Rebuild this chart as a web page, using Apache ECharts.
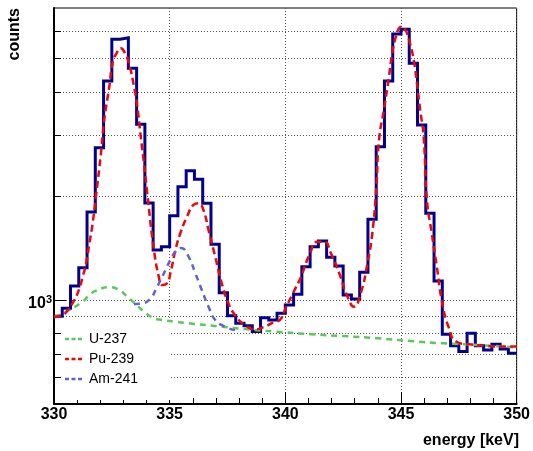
<!DOCTYPE html>
<html>
<head>
<meta charset="utf-8">
<script src="https://cdn.jsdelivr.net/npm/echarts/dist/echarts.min.js"></script>
<style>
html,body{margin:0;padding:0;background:#fff;}
#chart{width:533px;height:451px;}
</style>
</head>
<body>
<div id="chart"></div>
<script>
// ---- data ----
// histogram: 56 equal bins from 330 to 350 keV
const histRange = [330, 350];
const counts = [898, 946, 1098, 1240, 1797, 2759, 4305, 5681, 5743, 4683,
  3225, 1909, 1396, 1427, 1752, 2128, 2366, 2237, 1905, 1450,
  1050, 900, 856, 842, 810, 889, 875, 915, 967, 1039,
  1248, 1427, 1482, 1329, 1254, 1034, 1007, 1203, 1712, 2778,
  4305, 5886, 6074, 4842, 3210, 1782, 1135, 796, 737, 709,
  801, 737, 717, 744, 721, 701];

// fit curves (energy keV, counts)
const u237E = [330.03, 330.53, 331.24, 331.53, 331.82, 332.39, 332.82, 333.17, 333.53, 333.89,
  334.24, 334.67, 335.25, 335.82, 337.25, 338.25, 339.54, 341.11, 342.55, 343.97,
  345.4, 346.84, 348.27, 350.0];
const u237V = [894, 925, 989, 1034, 1064, 1089, 1069, 1022, 973, 925,
  891, 875, 866, 856, 837, 824, 810, 796, 786, 775,
  761, 749, 741, 729];

const pu239E = [330.0, 330.38, 330.6, 330.88, 331.1, 331.24, 331.39, 331.53, 331.67, 331.82,
  332.03, 332.17, 332.39, 332.53, 332.7, 332.89, 333.07, 333.24, 333.46, 333.6,
  333.75, 333.89, 334.03, 334.32, 334.53, 334.67, 334.89, 335.03, 335.25, 335.46,
  335.75, 336.03, 336.25, 336.46, 336.68, 336.97, 337.25, 337.54, 337.82, 338.25,
  338.68, 339.11, 339.54, 339.76, 340.04, 340.33, 340.68, 341.04, 341.4, 341.69,
  341.97, 342.33, 342.69, 342.97, 343.26, 343.55, 343.76, 343.93, 344.05, 344.26,
  344.48, 344.62, 344.76, 344.91, 345.05, 345.19, 345.33, 345.55, 345.69, 345.83,
  345.98, 346.12, 346.33, 346.55, 346.76, 347.05, 347.4, 347.98, 348.7, 349.41, 350.0];
const pu239V = [893, 905, 936, 1000, 1081, 1168, 1277, 1459, 1667, 2013,
  2658, 3318, 4143, 4842, 5176, 5351, 5176, 4842, 4143, 3627,
  2969, 2487, 2036, 1396, 1168, 1105, 1118, 1195, 1396, 1560,
  1742, 1884, 1905, 1821, 1594, 1334, 1118, 978, 905, 846,
  822, 837, 866, 875, 956, 1046, 1168, 1350, 1475, 1475,
  1365, 1195, 1022, 956, 1046, 1277, 1560, 2100, 2904, 3548,
  4429, 5176, 5721, 6115, 6182, 6046, 5721, 4951, 4239, 3548,
  2969, 1948, 1560, 1248, 1000, 837, 757, 744, 737, 733, 733];

const am241E = [333.46, 333.82, 334.18, 334.39, 334.61, 334.82, 335.03, 335.25, 335.5, 335.82,
  336.11, 336.39, 336.68, 336.97, 337.39, 337.82];
const am241V = [973, 978, 1011, 1069, 1143, 1222, 1306, 1380, 1415, 1334,
  1195, 1069, 956, 875, 837, 818];

// y grid / tick values (log axis)
const yGridVals = [600, 700, 800, 900, 1000, 2000, 3000, 4000, 5000, 6000];
const yMajorVals = [1000];
const yRange = [500, 7000];
const xTickInterval = 5;
const legendNames = ['U-237', 'Pu-239', 'Am-241'];

// ---- build ----
const FONT = "'Liberation Sans', Arial, Helvetica, sans-serif";
const binW = (histRange[1] - histRange[0]) / counts.length;
const histData = counts.map((c, i) => [histRange[0] + i * binW, c]);
histData.push([histRange[1], counts[counts.length - 1]]);
const zip = (a, b) => a.map((x, i) => [x, b[i]]);
// dashed-line legend glyph (17 x 14 box)
const dashIcon = 'path://M0,0h0.01v0.01h-0.01z M0,5.75h4v2.5h-4z M6.5,5.75h4v2.5h-4z M13,5.75h4v2.5h-4z M16.99,13.99h0.01v0.01h-0.01z';

const chart = echarts.init(document.getElementById('chart'), null, {renderer: 'canvas'});
chart.setOption({
  animation: false,
  backgroundColor: '#fff',
  textStyle: {fontFamily: FONT},
  grid: {left: 54, right: 13, top: 8, bottom: 47, show: true, borderColor: '#000', borderWidth: 1, backgroundColor: 'transparent'},
  xAxis: {
    type: 'value', min: histRange[0], max: histRange[1], interval: xTickInterval,
    axisLine: {show: true, lineStyle: {color: '#000', width: 2}},
    axisTick: {show: true, inside: true, length: 12, lineStyle: {color: '#000', width: 1}},
    minorTick: {show: true, splitNumber: 5, length: 6, lineStyle: {color: '#000', width: 1}},
    axisLabel: {color: '#000', fontSize: 16, fontWeight: 'bold', fontFamily: FONT, margin: 3},
    splitLine: {show: true, lineStyle: {color: '#555', width: 1, type: [1, 2]}}
  },
  yAxis: {
    type: 'log', logBase: 10, min: yRange[0], max: yRange[1],
    axisLine: {show: true, lineStyle: {color: '#000', width: 2}},
    axisTick: {show: false},
    minorTick: {show: false},
    splitLine: {show: false},
    axisLabel: {
      margin: 2, color: '#000', padding: [6, 0, 0, 0],
      formatter: function (v) { return Math.abs(v - 1000) < 1 ? '{a|10}{b|3}' : ''; },
      rich: {
        a: {fontSize: 16, fontWeight: 'bold', fontFamily: FONT, color: '#000', lineHeight: 17, verticalAlign: 'bottom'},
        b: {fontSize: 11, fontWeight: 'bold', fontFamily: FONT, color: '#000', lineHeight: 11, verticalAlign: 'top'}
      }
    }
  },
  legend: {
    data: legendNames.map(n => ({name: n, icon: dashIcon})),
    orient: 'vertical', left: 62, top: 322,
    padding: [10, 32, 14, 3],
    backgroundColor: '#fff',
    itemWidth: 17, itemHeight: 14, itemGap: 6,
    selectedMode: false,
    itemStyle: {borderWidth: 0},
    textStyle: {fontSize: 14, color: '#000', fontFamily: FONT, padding: [0, 0, 0, 2]}
  },
  graphic: [
    {type: 'text', x: 14.5, y: 8, rotation: Math.PI / 2, z: 10,
     style: {text: 'counts', font: "bold 16px " + FONT, fill: '#000', textAlign: 'right', align: 'right', textVerticalAlign: 'middle', verticalAlign: 'middle'}},
    {type: 'text', x: 519, y: 441, z: 10,
     style: {text: 'energy [keV]', font: "bold 16px " + FONT, fill: '#000', textAlign: 'right', align: 'right', textVerticalAlign: 'middle', verticalAlign: 'middle'}}
  ],
  series: [
    {
      name: 'ygrid', type: 'custom', silent: true, z: 1,
      data: yGridVals.map(v => [histRange[0], v]),
      encode: {x: 0, y: 1},
      renderItem: function (params, api) {
        const v = api.value(1);
        const p = api.coord([api.value(0), v]);
        const cs = params.coordSys;
        const y = Math.round(p[1]) + 0.5;
        const major = yMajorVals.indexOf(v) >= 0;
        return {type: 'group', children: [
          {type: 'line', shape: {x1: cs.x, y1: y, x2: cs.x + cs.width, y2: y}, style: {stroke: '#555', lineWidth: 1, lineDash: [1, 2]}},
          {type: 'line', shape: {x1: cs.x, y1: y, x2: cs.x + (major ? 12 : 7), y2: y}, style: {stroke: '#000', lineWidth: 1}}
        ]};
      }
    },
    {
      name: 'data', type: 'line', step: 'end', data: histData, symbol: 'none', z: 3,
      lineStyle: {color: '#000099', width: 3, join: 'miter'}, itemStyle: {color: '#000099'}
    },
    {
      name: 'U-237', type: 'line', data: zip(u237E, u237V), smooth: true, symbol: 'none', z: 4,
      lineStyle: {color: '#55cc55', width: 2.5, type: [6, 5]}, itemStyle: {color: '#55cc55'}
    },
    {
      name: 'Pu-239', type: 'line', data: zip(pu239E, pu239V), smooth: true, symbol: 'none', z: 4,
      lineStyle: {color: '#ff0000', width: 2.5, type: [7, 4]}, itemStyle: {color: '#ff0000'}
    },
    {
      name: 'Am-241', type: 'line', data: zip(am241E, am241V), smooth: true, symbol: 'none', z: 4,
      lineStyle: {color: '#5f5fe0', width: 2.5, type: [6, 5]}, itemStyle: {color: '#5f5fe0'}
    }
  ]
});
</script>
</body>
</html>
